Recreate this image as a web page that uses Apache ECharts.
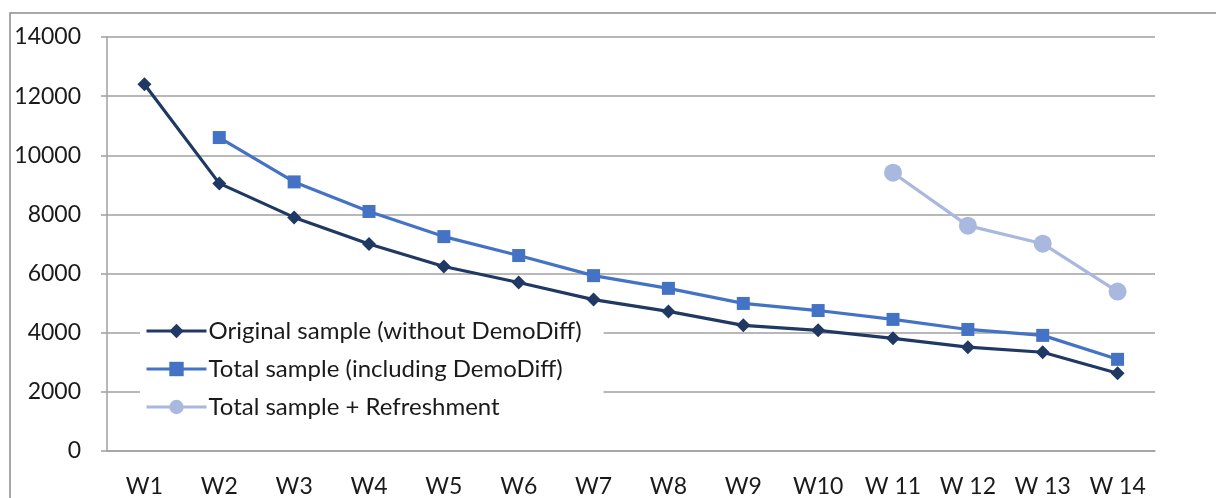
<!DOCTYPE html>
<html><head><meta charset="utf-8">
<script src="https://cdn.jsdelivr.net/npm/echarts@6/dist/echarts.min.js"></script>
<style>html,body{margin:0;padding:0;background:#fff}#c{width:1216px;height:498px}</style>
</head><body><div id="c"></div>
<script>
const categories = ['W1','W2','W3','W4','W5','W6','W7','W8','W9','W10','W 11','W 12','W 13','W 14'];
const originalSample = [12400, 9050, 7900, 7000, 6240, 5700, 5120, 4720, 4250, 4080, 3810, 3510, 3340, 2630];
const totalSample = [null, 10600, 9100, 8100, 7250, 6610, 5930, 5500, 4990, 4750, 4450, 4110, 3910, 3100];
const refreshSample = [null, null, null, null, null, null, null, null, null, null, 9410, 7620, 7010, 5390];
const yTicks = {min: 0, max: 14000, interval: 2000};
const seriesNames = ['Original sample (without DemoDiff)', 'Total sample (including DemoDiff)', 'Total sample + Refreshment'];

const chart = echarts.init(document.getElementById('c'));
const font = 'Lato, "Open Sans", sans-serif';
chart.setOption({
  animation: false,
  backgroundColor: '#fff',
  graphic: [{type:'polyline', shape:{points:[[10,498],[10,13],[1216,13]]}, style:{stroke:'#8c8c8c', lineWidth:1.5, fill:null}, z:-1}],
  grid: {left: 107, right: 61, top: 37, bottom: 46},
  legend: {
    orient: 'vertical', left: 140, top: 316, backgroundColor: '#fff',
    padding: [3, 22, 8, 5], itemWidth: 60, itemHeight: 18, itemGap: 14,
    lineStyle: {width: 3},
    textStyle: {fontFamily: font, fontSize: 24, color: '#1a1a1a', padding: [0, 0, 0, -3]},
    data: seriesNames
  },
  xAxis: {
    type: 'category', data: categories, boundaryGap: true,
    axisLine: {lineStyle: {color: '#a0a0a0', width: 1.5}},
    axisTick: {length: 8, lineStyle: {color: '#a0a0a0', width: 1.5}},
    axisLabel: {fontFamily: font, fontSize: 23, color: '#1a1a1a', margin: 24}
  },
  yAxis: {
    type: 'value', min: yTicks.min, max: yTicks.max, interval: yTicks.interval,
    axisLine: {show: true, lineStyle: {color: '#a0a0a0', width: 1.5}},
    axisTick: {show: true, length: 6, lineStyle: {color: '#a0a0a0', width: 1.5}},
    splitLine: {lineStyle: {color: '#a0a0a0', width: 1.5}},
    axisLabel: {fontFamily: font, fontSize: 23, color: '#1a1a1a', margin: 26, formatter: v => String(v)}
  },
  series: [
    {name: seriesNames[0], type: 'line', data: originalSample, symbol: 'diamond', symbolSize: 14,
     lineStyle: {color: '#1f3864', width: 3.2}, itemStyle: {color: '#1f3864'}, z: 3},
    {name: seriesNames[1], type: 'line', data: totalSample, symbol: 'rect', symbolSize: 13,
     lineStyle: {color: '#4472c4', width: 3.2}, itemStyle: {color: '#4472c4'}, z: 2},
    {name: seriesNames[2], type: 'line', data: refreshSample, symbol: 'circle', symbolSize: 18,
     lineStyle: {color: '#a9b8de', width: 3.2}, itemStyle: {color: '#a9b8de'}, z: 2}
  ]
});
</script></body></html>
